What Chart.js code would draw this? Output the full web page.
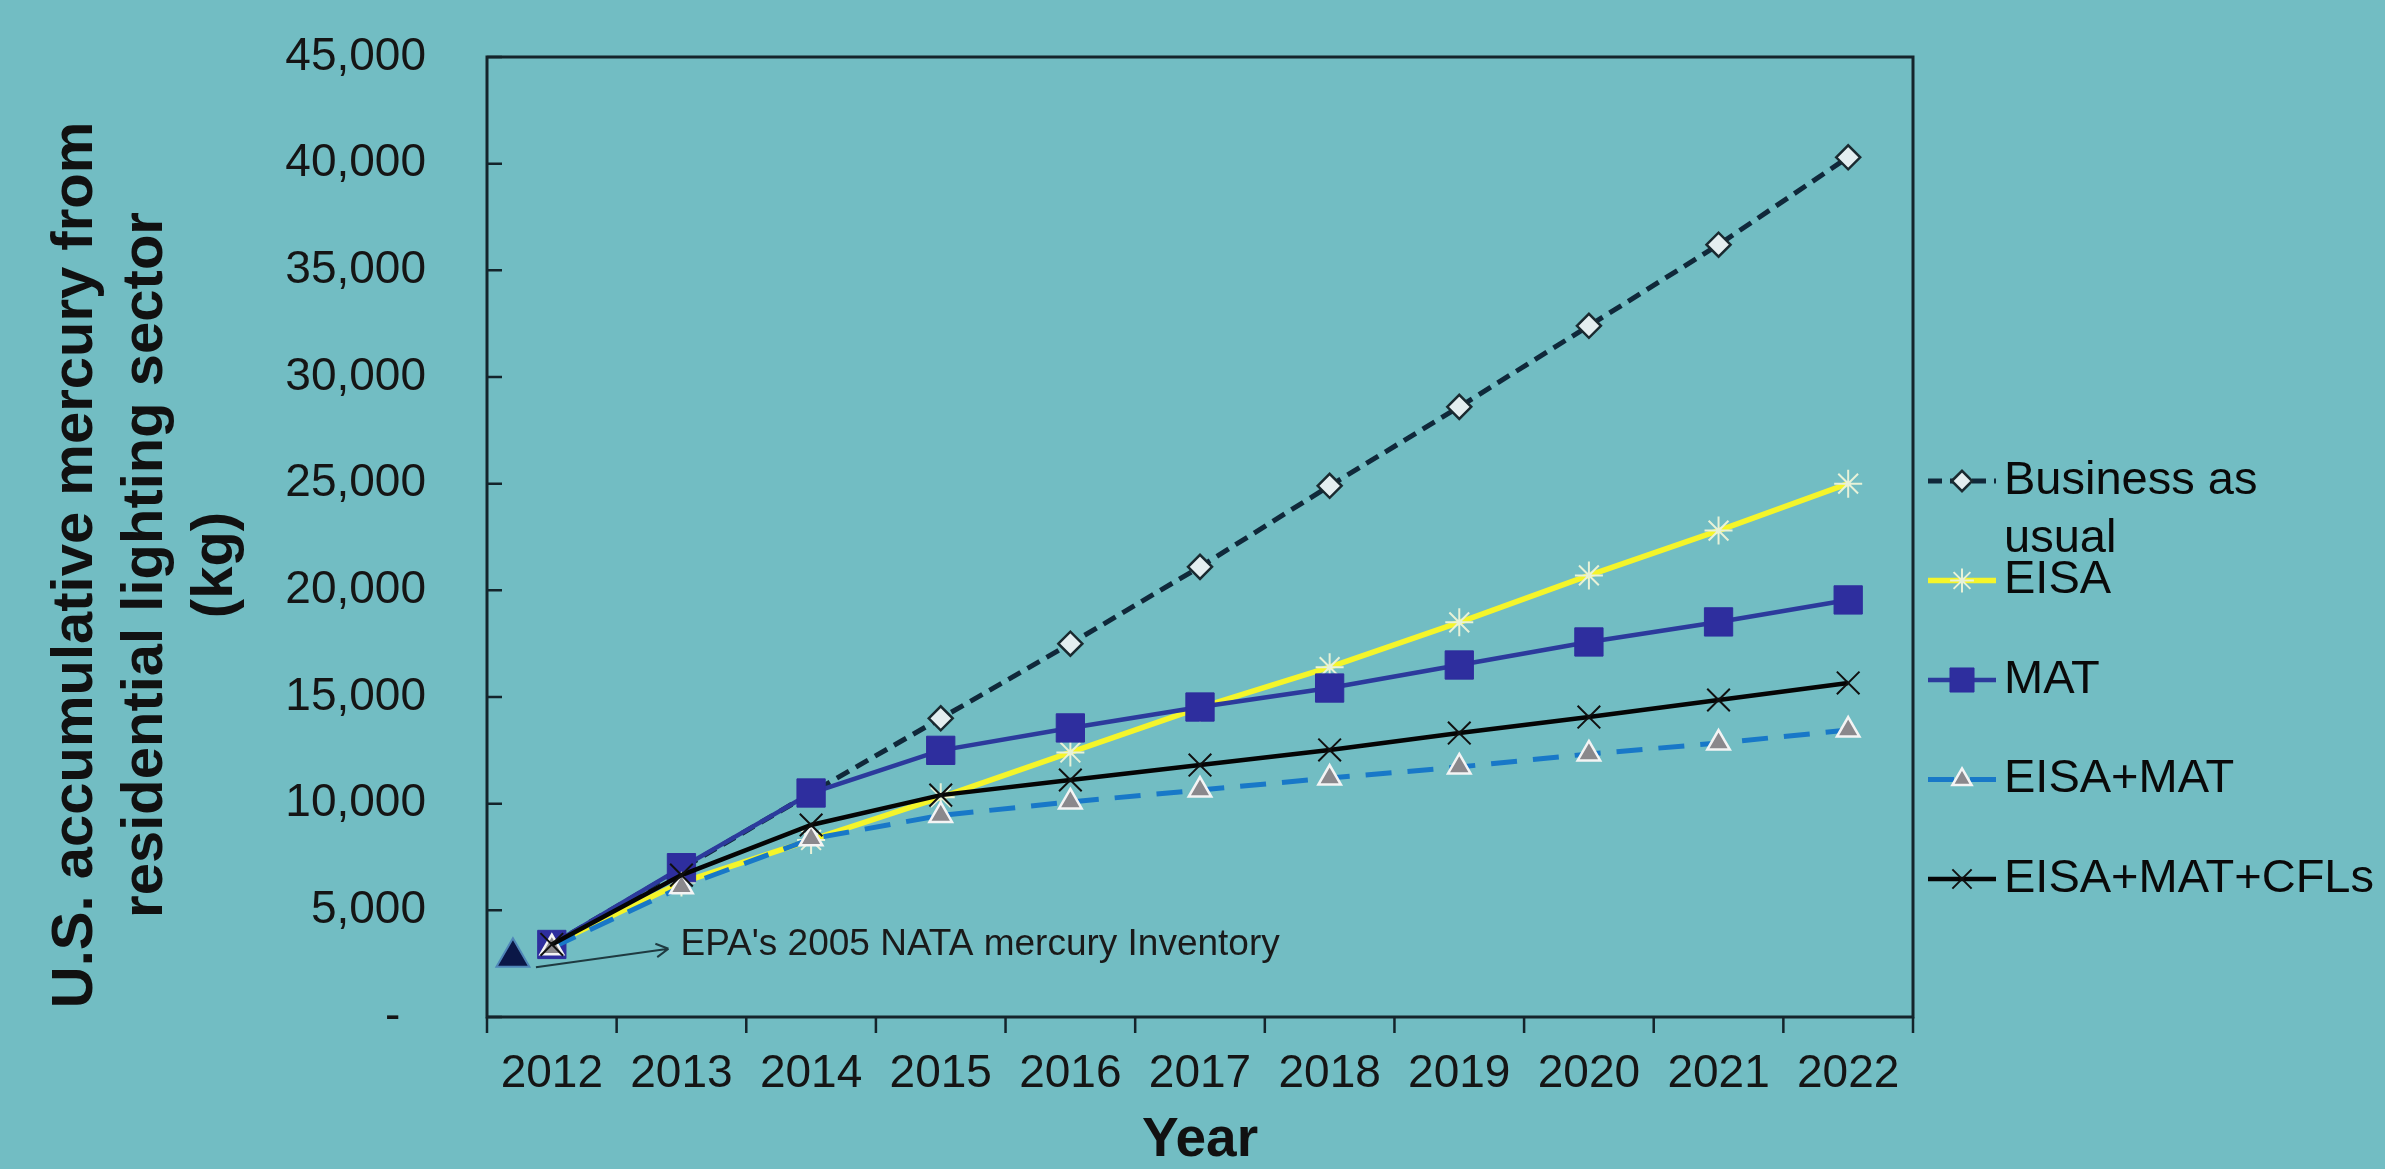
<!DOCTYPE html>
<html>
<head>
<meta charset="utf-8">
<script src="https://cdn.jsdelivr.net/npm/chart.js@4.4.1/dist/chart.umd.min.js"></script>
<style>
  html, body { margin: 0; padding: 0; background: #72bdc3; }
  #wrap { width: 2385px; height: 1169px; }
</style>
</head>
<body>
<div id="wrap"><canvas id="myChart" width="2385" height="1169"></canvas></div>
<script>
// values (kg)
const years = [2012, 2013, 2014, 2015, 2016, 2017, 2018, 2019, 2020, 2021, 2022];
const businessAsUsual = [3400, 6950, 10500, 14000, 17500, 21100, 24900, 28600, 32400, 36200, 40300];
const eisa = [3400, 6300, 8300, 10300, 12400, 14500, 16400, 18500, 20700, 22800, 25000];
const mat = [3400, 7000, 10500, 12500, 13550, 14530, 15420, 16500, 17580, 18520, 19550];
const eisaMat = [3250, 6100, 8350, 9450, 10080, 10640, 11200, 11720, 12330, 12840, 13450];
const eisaMatCfls = [3400, 6650, 9000, 10400, 11110, 11810, 12520, 13310, 14060, 14860, 15660];
const epaInventory = [{ x: 2011.7, y: 2800 }];
const yTicks = [0, 5000, 10000, 15000, 20000, 25000, 30000, 35000, 40000, 45000];
const seriesNames = ['Business as usual', 'EISA', 'MAT', 'EISA+MAT', 'EISA+MAT+CFLs'];
const legendLines = [['Business as', 'usual'], ['EISA'], ['MAT'], ['EISA+MAT'], ['EISA+MAT+CFLs']];
const yTitleLines = ['U.S. accumulative mercury from', 'residential lighting sector', '(kg)'];
const annotationText = "EPA's 2005 NATA mercury Inventory";

const FONT = "'Liberation Sans', Arial, sans-serif";
Chart.defaults.font.family = FONT;
Chart.defaults.color = '#151515';

function pts(values) {
  return values.map((v, i) => ({ x: years[i], y: v }));
}

const datasets = [
  {
    label: seriesNames[0], data: pts(businessAsUsual), order: 4,
    borderColor: '#10283a', borderWidth: 5, borderDash: [14, 8],
    pointStyle: 'rectRot', pointRadius: 12, pointBorderWidth: 2.5,
    pointBackgroundColor: '#e4eef0', pointBorderColor: '#1a2a30'
  },
  {
    label: seriesNames[1], data: pts(eisa), order: 3,
    borderColor: '#f5f52a', borderWidth: 5.5,
    pointStyle: 'star', pointRadius: 14, pointBorderWidth: 2,
    pointBackgroundColor: '#e8f2d8', pointBorderColor: '#e8f2d8'
  },
  {
    label: seriesNames[2], data: pts(mat), order: 2,
    borderColor: '#2c3a9c', borderWidth: 4.5,
    pointStyle: 'rect', pointRadius: 20, pointBorderWidth: 1,
    pointBackgroundColor: '#2e2e9e', pointBorderColor: '#2e2e9e'
  },
  {
    label: seriesNames[3], data: pts(eisaMat), order: 1,
    borderColor: '#1878c8', borderWidth: 5, borderDash: [26, 16],
    pointStyle: 'triangle', pointRadius: 13, pointBorderWidth: 2.5,
    pointBackgroundColor: '#8a888c', pointBorderColor: '#f4f4f4'
  },
  {
    label: seriesNames[4], data: pts(eisaMatCfls), order: 0,
    borderColor: '#050505', borderWidth: 4.5,
    pointStyle: 'crossRot', pointRadius: 16, pointBorderWidth: 2,
    pointBackgroundColor: '#101010', pointBorderColor: '#101010'
  },
  {
    label: 'EPA', data: epaInventory, order: 5, showLine: false,
    pointStyle: 'triangle', pointRadius: 19, pointBorderWidth: 2,
    pointBackgroundColor: '#0b1747', pointBorderColor: '#4f86b8'
  }
];

const framePlugin = {
  id: 'frame',
  beforeDraw(chart) {
    const ctx = chart.ctx;
    ctx.save();
    ctx.fillStyle = '#72bdc3';
    ctx.fillRect(0, 0, chart.width, chart.height);
    ctx.restore();
  },
  beforeDatasetsDraw(chart) {
    const { ctx, chartArea: a, scales: { x, y } } = chart;
    ctx.save();
    ctx.strokeStyle = '#14242b';
    ctx.lineWidth = 3;
    ctx.strokeRect(a.left, a.top, a.right - a.left, a.bottom - a.top);
    ctx.lineWidth = 2.5;
    ctx.beginPath();
    yTicks.forEach(v => {
      const py = y.getPixelForValue(v);
      ctx.moveTo(a.left, py);
      ctx.lineTo(a.left + 15, py);
    });
    for (let k = 0; k <= years.length; k++) {
      const px = x.getPixelForValue(years[0] - 0.5 + k);
      ctx.moveTo(px, a.bottom);
      ctx.lineTo(px, a.bottom + 16);
    }
    ctx.stroke();

    // y axis title, three rotated lines
    ctx.fillStyle = '#111';
    ctx.font = 'bold 58px ' + FONT;
    ctx.textAlign = 'center';
    ctx.textBaseline = 'middle';
    yTitleLines.forEach((t, i) => {
      ctx.save();
      ctx.translate(76 + i * 70, 565);
      ctx.rotate(-Math.PI / 2);
      ctx.fillText(t, 0, 0);
      ctx.restore();
    });
    ctx.restore();
  },
  afterDraw(chart) {
    const { ctx, scales: { x, y } } = chart;
    ctx.save();
    // annotation arrow from the EPA point
    const ex = x.getPixelForValue(epaInventory[0].x) + 23;
    const ey = y.getPixelForValue(epaInventory[0].y) + 10;
    const tx = x.getPixelForValue(2012.9);
    const ty = y.getPixelForValue(3200);
    ctx.strokeStyle = '#1e3a40';
    ctx.lineWidth = 2;
    ctx.beginPath();
    ctx.moveTo(ex, ey);
    ctx.lineTo(tx, ty);
    const ang = Math.atan2(ty - ey, tx - ex);
    [0.5, -0.5].forEach(d => {
      ctx.moveTo(tx, ty);
      ctx.lineTo(tx - 14 * Math.cos(ang + d), ty - 14 * Math.sin(ang + d));
    });
    ctx.stroke();
    ctx.fillStyle = '#1a1a1a';
    ctx.font = '37px ' + FONT;
    ctx.textAlign = 'left';
    ctx.textBaseline = 'middle';
    ctx.fillText(annotationText, tx + 12, ty - 4);

    // legend
    const lx0 = 1928, lx1 = 1996, textX = 2004;
    let ly = 481;
    ctx.font = '47px ' + FONT;
    for (let i = 0; i < seriesNames.length; i++) {
      const ds = chart.data.datasets[i];
      ctx.strokeStyle = ds.borderColor;
      ctx.lineWidth = ds.borderWidth;
      ctx.setLineDash(ds.borderDash || []);
      ctx.beginPath();
      ctx.moveTo(lx0, ly);
      ctx.lineTo(lx1, ly);
      ctx.stroke();
      ctx.setLineDash([]);
      ctx.fillStyle = ds.pointBackgroundColor;
      ctx.strokeStyle = ds.pointBorderColor;
      ctx.lineWidth = ds.pointBorderWidth;
      Chart.helpers.drawPoint(ctx, {
        pointStyle: ds.pointStyle, radius: ds.pointRadius * 0.85, borderWidth: ds.pointBorderWidth, rotation: 0
      }, (lx0 + lx1) / 2, ly);
      ctx.fillStyle = '#0a0a0a';
      legendLines[i].forEach((t, j) => ctx.fillText(t, textX, ly + j * 58));
      ly += 99.5;
    }
    ctx.restore();
  }
};

new Chart(document.getElementById('myChart'), {
  type: 'line',
  data: { datasets: datasets },
  options: {
    responsive: false,
    devicePixelRatio: 1,
    animation: false,
    layout: { padding: { top: 57, right: 472, left: 0, bottom: 0 } },
    plugins: { legend: { display: false }, tooltip: { enabled: false } },
    elements: { line: { tension: 0 } },
    scales: {
      x: {
        type: 'linear',
        min: 2011.5,
        max: 2022.5,
        afterFit(scale) { scale.height = 152; scale.paddingLeft = 0; scale.paddingRight = 0; },
        afterBuildTicks(scale) { scale.ticks = years.map(v => ({ value: v })); },
        grid: { display: false, drawTicks: false },
        border: { display: false },
        ticks: {
          padding: 30,
          color: '#151515',
          font: { size: 46 },
          callback: v => String(v)
        },
        title: {
          display: true,
          text: 'Year',
          color: '#111',
          font: { size: 55, weight: 'bold', lineHeight: 1 },
          padding: { top: 0, bottom: 1 }
        }
      },
      y: {
        min: 0,
        max: 45000,
        afterFit(scale) { scale.width = 487; scale.paddingTop = 0; scale.paddingBottom = 0; },
        afterBuildTicks(scale) { scale.ticks = yTicks.map(v => ({ value: v })); },
        grid: { display: false, drawTicks: false },
        border: { display: false },
        ticks: {
          padding: 61,
          color: '#151515',
          font: { size: 46 },
          callback: v => v === 0 ? '-  ' : v.toLocaleString('en-US')
        },
        title: { display: false }
      }
    }
  },
  plugins: [framePlugin]
});
</script>
</body>
</html>
